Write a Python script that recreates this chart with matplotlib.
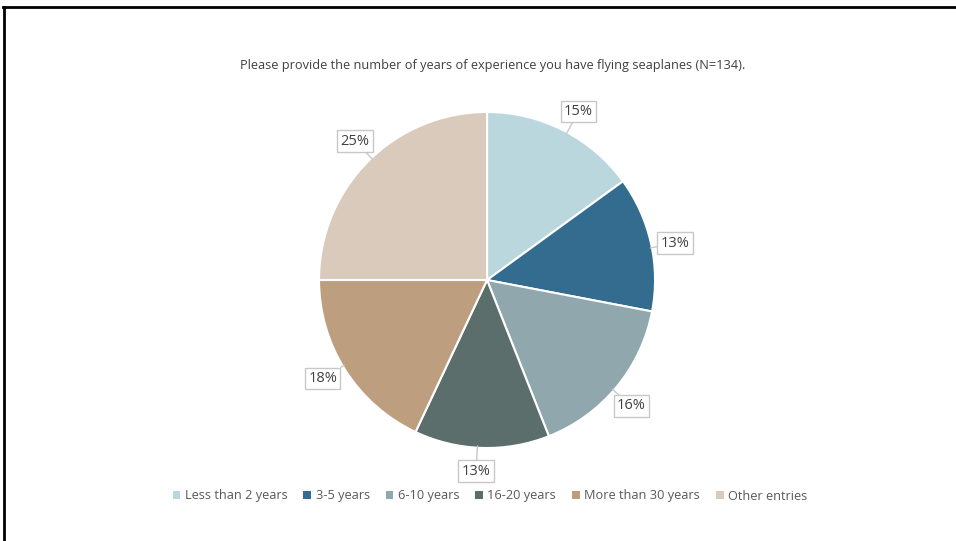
import numpy as np
import matplotlib.pyplot as plt
from matplotlib.patches import Patch
from matplotlib.lines import Line2D

plt.rcParams['font.family'] = ['Open Sans', 'DejaVu Sans']

categories = ['Less than 2 years', '3-5 years', '6-10 years', '16-20 years',
              'More than 30 years', 'Other entries']
shares = [15, 13, 16, 13, 18, 25]
colors = ['#BAD7DE', '#336C8E', '#90A7AD', '#5C6E6C', '#BD9F7F', '#D9CABB']
title = 'Please provide the number of years of experience you have flying seaplanes (N=134).'

fig = plt.figure(figsize=(9.56, 5.41), dpi=100)
fig.patch.set_facecolor('white')

# frame: only top and left edges show
fig.add_artist(Line2D([0.003, 1.0], [0.987, 0.987], color='black', lw=2.0,
                      transform=fig.transFigure))
fig.add_artist(Line2D([0.0047, 0.0047], [0.0, 0.987], color='black', lw=2.0,
                      transform=fig.transFigure))

fig.text(493 / 956, 1 - 66 / 541, title, ha='center', va='center', fontsize=9.2,
         color='#404040')

ax = fig.add_axes([0.3337, 0.1719, 0.3515, 0.6211])
wedges, _ = ax.pie(shares, colors=colors, startangle=90, counterclock=False,
                   radius=1.0, wedgeprops=dict(edgecolor='white', linewidth=1.5))
ax.set_xlim(-1, 1)
ax.set_ylim(-1, 1)
ax.set_aspect('equal')
ax.axis('off')

# percentage callouts just outside each wedge
for w, v in zip(wedges, shares):
    mid = np.deg2rad((w.theta1 + w.theta2) / 2 - 1.5)
    ex, ey = np.cos(mid), np.sin(mid)
    ax.annotate(f'{v}%', xy=(ex * 0.99, ey * 0.99), xytext=(ex * 1.14, ey * 1.14),
                ha='center', va='center', fontsize=10.5, color='#404040',
                bbox=dict(boxstyle='square,pad=0.22', fc='white', ec='#C8C8C8', lw=1.0),
                arrowprops=dict(arrowstyle='-', color='#C8C8C8', lw=1.0,
                                shrinkA=0, shrinkB=0))

handles = [Patch(facecolor=c, edgecolor='none') for c in colors]
fig.legend(handles, categories, loc='center', bbox_to_anchor=(490 / 956, 1 - 496 / 541),
           ncol=6, frameon=False, fontsize=9.2, handlelength=0.6, handleheight=0.6,
           handletextpad=0.35, columnspacing=1.25, labelcolor='#595959')

fig.savefig('out.png', dpi=100)
